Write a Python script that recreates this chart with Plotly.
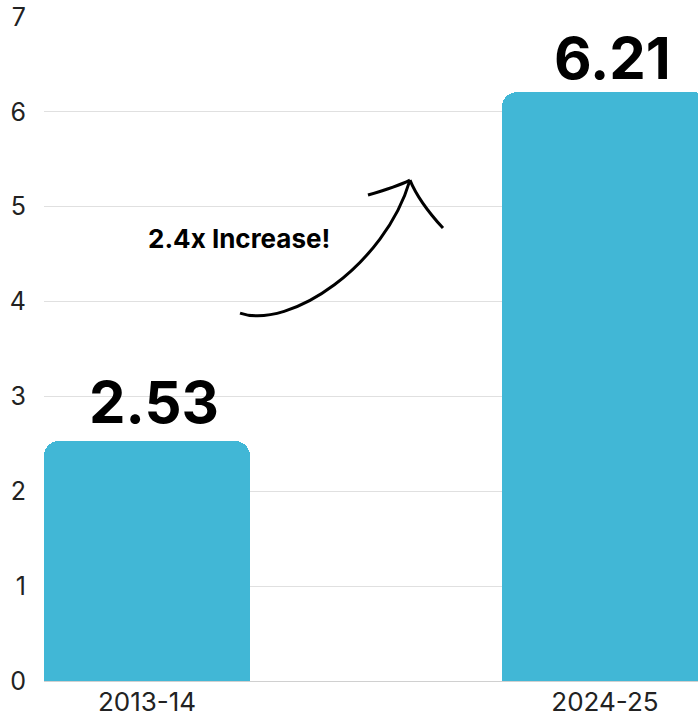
import plotly.graph_objects as go

categories = ["2013-14", "2024-25"]
values = [2.53, 6.21]
value_labels = ["2.53", "6.21"]
y_ticks = [0, 1, 2, 3, 4, 5, 6, 7]
note_text = "2.4x Increase!"

x_pos = list(range(len(categories)))
BAR_COLOR = "#41B7D6"
label_xshift = [7, 8]
label_yshift = [2, -3]

fig = go.Figure()
fig.add_trace(go.Bar(
    x=x_pos, y=values, width=0.4498,
    marker=dict(color=BAR_COLOR, line=dict(width=0)),
    hoverinfo="skip",
))

for xi, v, t, dx, dy in zip(x_pos, values, value_labels, label_xshift, label_yshift):
    fig.add_annotation(
        x=xi, y=v, text=f"<b>{t}</b>", showarrow=False,
        xanchor="center", yanchor="bottom", yshift=dy, xshift=dx,
        font=dict(family="Inter", size=58, color="#000000"),
    )

fig.add_annotation(
    x=0.2009, y=4.67, text=f"<b>{note_text}</b>", showarrow=False,
    xanchor="center", yanchor="middle",
    font=dict(family="Inter", size=26, color="#000000"),
)

# hand-drawn style arrow (decoration)
arrow_style = dict(type="path", xref="x", yref="y", line=dict(color="#000000", width=3))
fig.add_shape(path="M 0.2031 3.879 C 0.3122 3.700, 0.5197 4.385, 0.5742 5.281", **arrow_style)
fig.add_shape(path="M 0.4825 5.123 Q 0.5459 5.213, 0.5742 5.281", **arrow_style)
fig.add_shape(path="M 0.5742 5.281 Q 0.5939 5.050, 0.6463 4.775", **arrow_style)

fig.update_layout(
    width=698, height=717,
    margin=dict(l=44, r=0, t=17, b=36),
    paper_bgcolor="white", plot_bgcolor="white",
    showlegend=False,
    bargap=0,
    barcornerradius=15,
    font=dict(family="Inter", color="#222222"),
)
fig.update_xaxes(
    range=[-0.2249, 1.2031], tickmode="array", tickvals=x_pos, ticktext=categories,
    showgrid=False, zeroline=False, showline=False, automargin=False,
    tickfont=dict(size=26, color="#222222"), ticks="", ticklabelstandoff=3,
    fixedrange=True,
)
fig.update_yaxes(
    range=[0, 7], tickmode="array", tickvals=y_ticks,
    showgrid=True, gridcolor="#e0e0e0", gridwidth=1,
    zeroline=True, zerolinecolor="#d0d0d0", zerolinewidth=1,
    showline=False, automargin=False,
    tickfont=dict(size=25, color="#222222"), ticks="", ticklabelstandoff=17,
    fixedrange=True,
)

fig.write_html(
    "out.html",
    config={"displayModeBar": False},
    post_script="document.body.style.margin='0';document.body.style.overflow='hidden';",
)
